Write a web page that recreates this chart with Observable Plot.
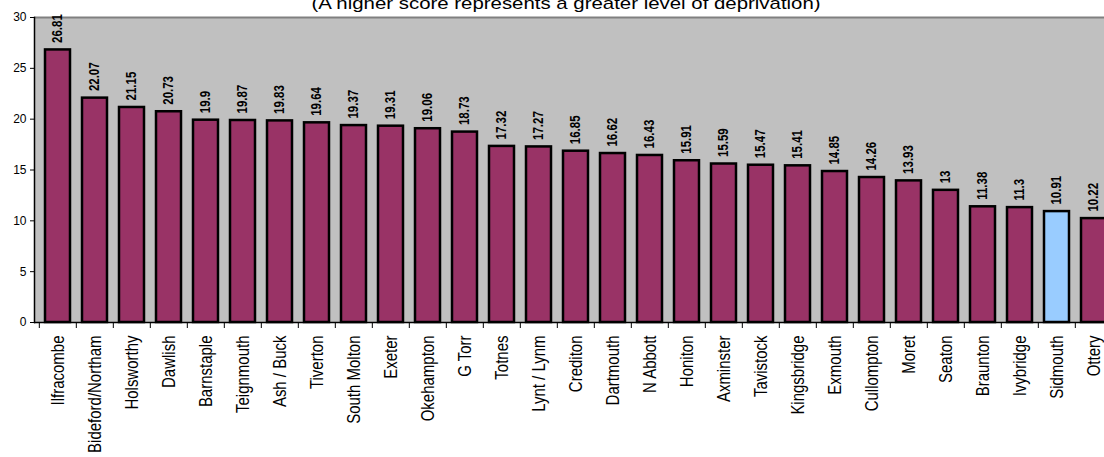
<!DOCTYPE html>
<html><head><meta charset="utf-8">
<script src="https://cdn.jsdelivr.net/npm/d3@7"></script>
<script src="https://cdn.jsdelivr.net/npm/@observablehq/plot@0.6"></script>
<style>
html,body{margin:0;padding:0;overflow:hidden;background:#fff;width:1104px;height:457px;}
#wrap{position:relative;width:1104px;height:457px;overflow:hidden;font-family:Arial,"Liberation Sans",sans-serif;}
#title{position:absolute;left:0;width:1132px;text-align:center;top:-5px;font-size:17px;line-height:17px;white-space:nowrap;transform:scaleX(1.2);transform-origin:566px 0;color:#000;}
#chart{position:absolute;left:0;top:0;width:1117px;}
#chart svg{max-width:none !important;}
</style></head><body>
<div id="wrap"><div id="chart"></div><div id="title">(A higher score represents a greater level of deprivation)</div></div>
<script>
const areas = ["Ilfracombe","Bideford/Northam","Holsworthy","Dawlish","Barnstaple","Teignmouth","Ash / Buck","Tiverton","South Molton","Exeter","Okehampton","G Torr","Totnes","Lynt / Lynm","Crediton","Dartmouth","N Abbott","Honiton","Axminster","Tavistock","Kingsbridge","Exmouth","Cullompton","Moret","Seaton","Braunton","Ivybridge","Sidmouth","Ottery"];
const scores = [26.81,22.07,21.15,20.73,19.9,19.87,19.83,19.64,19.37,19.31,19.06,18.73,17.32,17.27,16.85,16.62,16.43,15.91,15.59,15.47,15.41,14.85,14.26,13.93,13,11.38,11.3,10.91,10.22];
const highlight = "Sidmouth";
const yTicks = [0,5,10,15,20,25,30];
const yDomain = [0,30];

const data = areas.map((a,i)=>({area:a, score:scores[i]}));
const W = 1117, ML = 34;
const step = (W - ML) / areas.length;

const plot = Plot.plot({
  width: W, height: 457,
  marginLeft: ML, marginRight: 0, marginTop: 17, marginBottom: 135,
  style: {fontFamily: "Arial, 'Liberation Sans', sans-serif", background: "transparent", overflow: "visible", color: "#000", maxWidth: "none"},
  x: {domain: areas, paddingInner: 0.32, paddingOuter: 0.16, label: null},
  y: {domain: yDomain, label: null},
  color: {type: "identity"},
  marks: [
    Plot.frame({fill: "#c0c0c0", stroke: null}),
    Plot.ruleY([yDomain[1]], {stroke: "#808080", strokeWidth: 2}),
    Plot.barY(data, {x: "area", y: "score", fill: d => d.area === highlight ? "#99ccff" : "#993366", stroke: "#000", strokeWidth: 2.5}),
    Plot.text(data, {x: "area", y: "score", text: d => String(d.score), rotate: -90, textAnchor: "start", dy: -7, fontSize: 11.5, fontWeight: "bold", fill: "#000"}),
    Plot.ruleY([0], {stroke: "#000", strokeWidth: 1.5}),
    Plot.frame({anchor: "left", stroke: "#000", strokeWidth: 1.5}),
    Plot.ruleX(areas, {x: d => d, y1: 0, y2: 0, insetBottom: -6, dx: -step / 2, stroke: "#000"}),
    Plot.axisY({ticks: yTicks, tickSize: 4, tickPadding: 4, fontSize: 12, label: null}),
    Plot.axisX({tickRotate: -90, tickSize: 0, tickPadding: 13, fontSize: 15, label: null})
  ]
});
plot.style.maxWidth = "none";
plot.style.width = W + "px";
// widen rotated glyphs slightly, as in the stretched original
plot.querySelectorAll("text").forEach(t => {
  const tr = t.getAttribute("transform");
  if (tr && tr.includes("rotate(-90)")) t.setAttribute("transform", tr + " scale(1,1.2)");
});
document.getElementById("chart").appendChild(plot);
</script>
</body></html>
